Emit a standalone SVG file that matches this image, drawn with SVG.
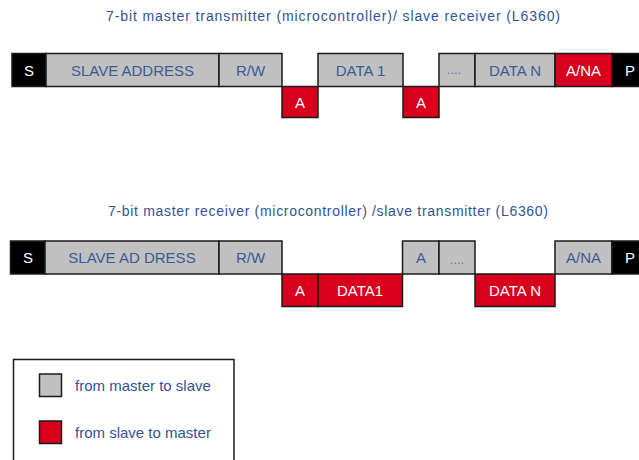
<svg xmlns="http://www.w3.org/2000/svg" width="639" height="460" viewBox="0 0 639 460">
<style>
.g{fill:#C0C0C0;stroke:#1a1a1a;stroke-width:1.5}
.r{fill:#D9001E;stroke:#1a1a1a;stroke-width:1.5}
.k{fill:#000;stroke:#1a1a1a;stroke-width:1.5}
text{font-family:"Liberation Sans",Arial,sans-serif;font-size:15px;text-anchor:middle}
.tb{fill:#3B5A96}
.tw{fill:#fff}
.dots{fill:#5A78B0;font-size:13px}
.title{fill:#2F5496;font-size:14px}
.leg{fill:#2F5496;font-size:15px;text-anchor:start}
</style>
<rect width="639" height="460" fill="#fff"/>
<text class="title" x="333" y="21" textLength="454" lengthAdjust="spacing">7-bit master transmitter (microcontroller)/  slave receiver (L6360)</text>
<text class="title" x="328" y="216" textLength="440" lengthAdjust="spacing">7-bit master receiver (microcontroller) /slave transmitter (L6360)</text>
<g id="row1">
<g id="r1-s"><rect class="k" x="12" y="53.5" width="34" height="33"/><text class="tw" x="29" y="75.5">S</text></g>
<g id="r1-addr"><rect class="g" x="46" y="53.5" width="173" height="33"/><text class="tb" x="132.5" y="75.5">SLAVE ADDRESS</text></g>
<g id="r1-rw"><rect class="g" x="219" y="53.5" width="63" height="33"/><text class="tb" x="250.5" y="75.5">R/W</text></g>
<g id="r1-a1"><rect class="r" x="282" y="86.5" width="36" height="31"/><text class="tw" x="300" y="107.5">A</text></g>
<g id="r1-d1"><rect class="g" x="318" y="53.5" width="85" height="33"/><text class="tb" x="360.5" y="75.5">DATA 1</text></g>
<g id="r1-a2"><rect class="r" x="403" y="86.5" width="36" height="31"/><text class="tw" x="421" y="107.5">A</text></g>
<g id="r1-dots"><rect class="g" x="439" y="53.5" width="36" height="33"/><text class="tb dots" x="454" y="74">....</text></g>
<g id="r1-dn"><rect class="g" x="475" y="53.5" width="80" height="33"/><text class="tb" x="515" y="75.5">DATA N</text></g>
<g id="r1-ana"><rect class="r" x="555" y="53.5" width="57" height="33"/><text class="tw" x="583.5" y="75.5">A/NA</text></g>
<g id="r1-p"><rect class="k" x="612" y="53.5" width="40" height="33"/><text class="tw" x="630" y="75.5">P</text></g>
</g>
<g id="row2">
<g id="r2-s"><rect class="k" x="10.5" y="241" width="34.5" height="33"/><text class="tw" x="28" y="263">S</text></g>
<g id="r2-addr"><rect class="g" x="45" y="241" width="174" height="33"/><text class="tb" x="132" y="263">SLAVE AD DRESS</text></g>
<g id="r2-rw"><rect class="g" x="219" y="241" width="63" height="33"/><text class="tb" x="250.5" y="263">R/W</text></g>
<g id="r2-a"><rect class="r" x="282" y="274" width="36" height="32.5"/><text class="tw" x="300" y="296">A</text></g>
<g id="r2-d1"><rect class="r" x="318" y="274" width="84.5" height="32.5"/><text class="tw" x="360" y="296">DATA1</text></g>
<g id="r2-a2"><rect class="g" x="402.5" y="241" width="36.5" height="33"/><text class="tb" x="421" y="263">A</text></g>
<g id="r2-dots"><rect class="g" x="439" y="241" width="36" height="33"/><text class="tb dots" x="457" y="263.5">....</text></g>
<g id="r2-dn"><rect class="r" x="475" y="274" width="80" height="32.5"/><text class="tw" x="515" y="296">DATA N</text></g>
<g id="r2-ana"><rect class="g" x="555" y="241" width="57" height="33"/><text class="tb" x="583.5" y="263">A/NA</text></g>
<g id="r2-p"><rect class="k" x="612" y="241" width="40" height="33"/><text class="tw" x="630" y="263">P</text></g>
</g>
<g id="legend">
<rect x="13.5" y="359.5" width="220.5" height="110" fill="#fff" stroke="#1a1a1a" stroke-width="1.5"/>
<rect class="g" x="39.5" y="374" width="22" height="22.5"/>
<text class="leg" x="75" y="391">from master to slave</text>
<rect class="r" x="39.5" y="421" width="22" height="22.5"/>
<text class="leg" x="75" y="437.5">from slave to master</text>
</g>
</svg>
